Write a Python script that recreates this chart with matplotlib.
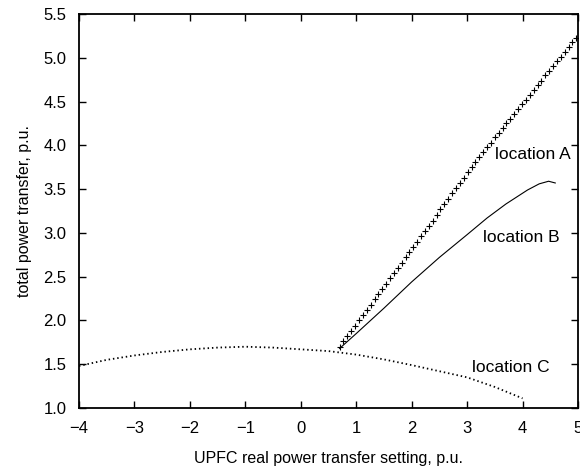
import numpy as np
import matplotlib
matplotlib.use("Agg")
import matplotlib.pyplot as plt

plt.rcParams['font.family'] = ['Liberation Sans', 'DejaVu Sans']

# location A (crosses)
xa = [0.70, 0.77, 0.84, 0.91, 0.98, 1.05, 1.12, 1.19, 1.26, 1.33,
      1.40, 1.47, 1.54, 1.61, 1.68, 1.75, 1.82, 1.89, 1.96, 2.03,
      2.10, 2.17, 2.24, 2.31, 2.38, 2.45, 2.52, 2.59, 2.66, 2.73,
      2.80, 2.87, 2.94, 3.01, 3.08, 3.15, 3.22, 3.29, 3.36, 3.43,
      3.50, 3.57, 3.64, 3.71, 3.78, 3.85, 3.92, 3.99, 4.06, 4.13,
      4.20, 4.27, 4.34, 4.41, 4.48, 4.55, 4.62, 4.69, 4.76, 4.83,
      4.90, 4.97]
ya = [1.70, 1.76, 1.82, 1.88, 1.94, 2.00, 2.06, 2.12, 2.18, 2.24,
      2.30, 2.36, 2.42, 2.48, 2.54, 2.60, 2.66, 2.72, 2.78, 2.84,
      2.90, 2.96, 3.02, 3.08, 3.14, 3.21, 3.27, 3.33, 3.39, 3.45,
      3.51, 3.57, 3.63, 3.69, 3.75, 3.81, 3.87, 3.92, 3.98, 4.03,
      4.09, 4.14, 4.20, 4.25, 4.30, 4.36, 4.41, 4.47, 4.52, 4.58,
      4.63, 4.69, 4.74, 4.80, 4.85, 4.91, 4.96, 5.01, 5.07, 5.12,
      5.18, 5.23]

# location B (solid)
xb = [0.70, 1.0, 1.5, 2.0, 2.5, 3.0, 3.36, 3.7, 4.09, 4.3, 4.47, 4.59]
yb = [1.68, 1.85, 2.14, 2.44, 2.72, 2.98, 3.17, 3.33, 3.49, 3.56, 3.59, 3.57]

# location C (dotted)
xc = [-4.0, -3.5, -3.0, -2.5, -2.0, -1.5, -1.0, -0.5, 0.0, 0.5,
      1.0, 1.5, 2.0, 2.5, 3.0, 3.5, 4.0]
yc = [1.48, 1.55, 1.60, 1.64, 1.67, 1.69, 1.70, 1.69, 1.67, 1.65,
      1.61, 1.555, 1.49, 1.42, 1.35, 1.24, 1.11]

xticks = np.arange(-4, 6, 1)
yticks = np.arange(1.0, 5.51, 0.5)

fig = plt.figure(figsize=(5.8, 4.69), dpi=100)
ax = fig.add_axes([79/580, 1-408/469, (578-79)/580, (408-14)/469])

ax.plot(xa, ya, linestyle='none', marker='+', markersize=4.5,
        markeredgewidth=0.8, color='black')
ax.plot(xb, yb, '-', color='black', linewidth=0.8)
ax.plot(xc, yc, color='black', linewidth=1.3, linestyle=(0, (0.8, 1.6)))

ax.text(3.51, 3.89, 'location A', fontsize=12.5, va='center', ha='left')
ax.text(3.29, 2.95, 'location B', fontsize=12.5, va='center', ha='left')
ax.text(3.08, 1.46, 'location C', fontsize=12.5, va='center', ha='left')

ax.set_xlim(-4, 5)
ax.set_ylim(1.0, 5.5)
ax.set_xticks(xticks)
ax.set_xticklabels(['\u2212%d' % -v if v < 0 else '%d' % v for v in xticks])
ax.set_yticks(yticks)
ax.set_yticklabels(['%.1f' % v for v in yticks])
ax.tick_params(direction='in', top=True, right=True, length=5, width=1,
               labelsize=12, pad=9)
for s in ax.spines.values():
    s.set_linewidth(1.3)

ax.set_xlabel('UPFC real power transfer setting, p.u.', fontsize=11.5, labelpad=11)
ax.set_ylabel('total power transfer, p.u.', fontsize=11.5, labelpad=8)

fig.savefig('out.png', dpi=100)
